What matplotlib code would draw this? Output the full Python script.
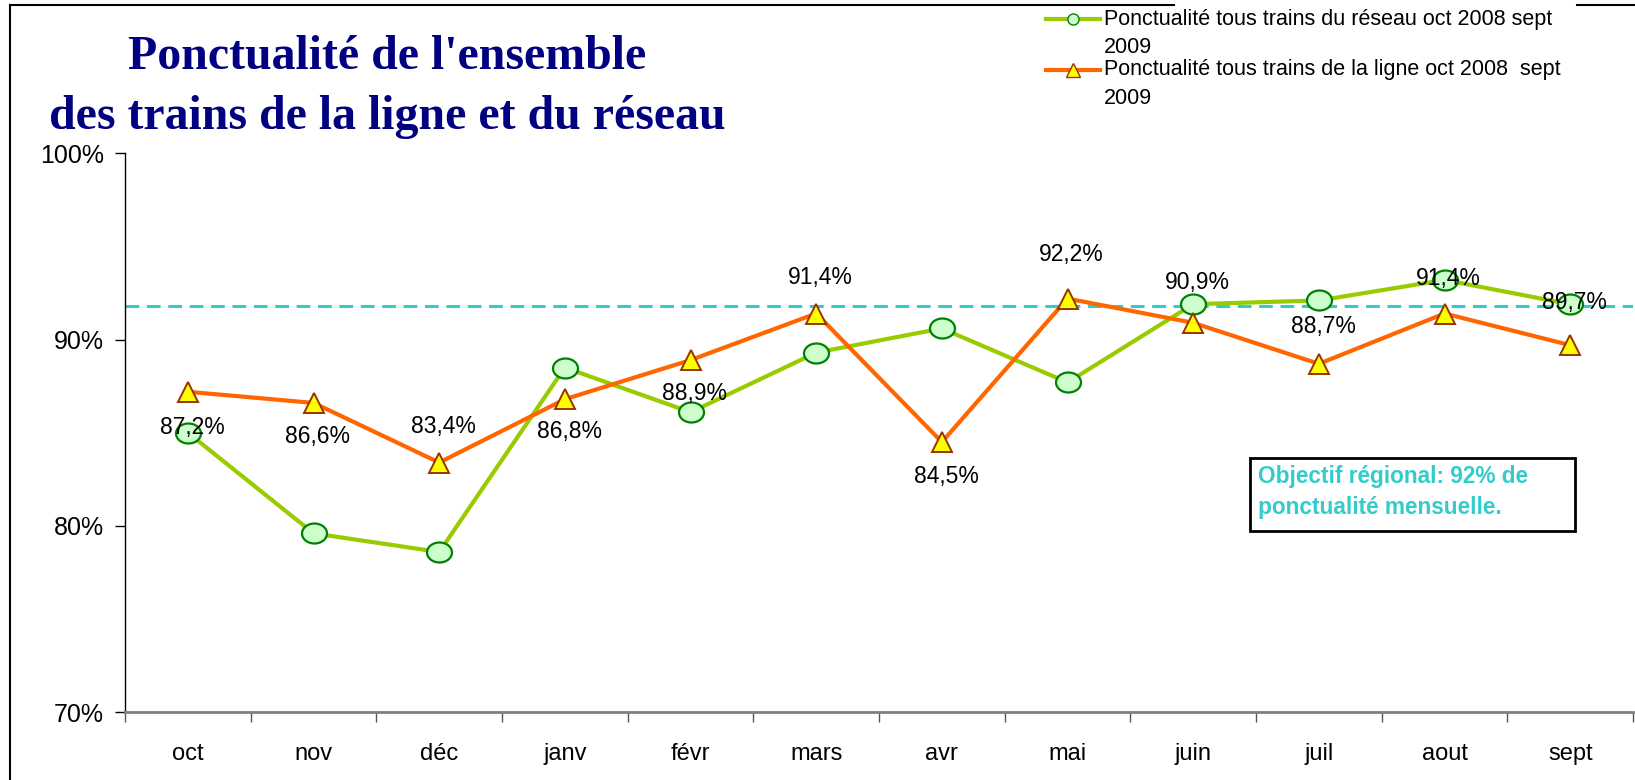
import matplotlib
matplotlib.use("Agg")
import matplotlib.pyplot as plt
from matplotlib.lines import Line2D
from matplotlib.path import Path
from matplotlib.patches import Rectangle
from matplotlib.ticker import PercentFormatter, FixedLocator
from matplotlib.legend_handler import HandlerLine2D
import numpy as np

plt.rcParams['font.family'] = ['Liberation Sans', 'DejaVu Sans']

months = ['oct', 'nov', 'déc', 'janv', 'févr', 'mars', 'avr', 'mai', 'juin', 'juil', 'aout', 'sept']
reseau = [85.0, 79.6, 78.6, 88.5, 86.1, 89.3, 90.6, 87.7, 91.9, 92.1, 93.2, 91.9]
ligne = [87.2, 86.6, 83.4, 86.8, 88.9, 91.4, 84.5, 92.2, 90.9, 88.7, 91.4, 89.7]
objectif = 91.8

label_reseau = 'Ponctualité tous trains du réseau oct 2008 sept\n2009'
label_ligne = 'Ponctualité tous trains de la ligne oct 2008  sept\n2009'

# vertical offset of each value label (points), + above the marker
label_dy = [-26, -24, 26, -23, -24, 26, -25, 32, 29, 27, 25, 31]


class TopLineHandler(HandlerLine2D):
    # put the legend sample next to the first line of a two-line label
    def __init__(self, dy, **kw):
        super().__init__(**kw)
        self.dy = dy

    def create_artists(self, *args, **kw):
        arts = super().create_artists(*args, **kw)
        for a in arts:
            a.set_ydata(np.asarray(a.get_ydata(), dtype=float) + self.dy)
        return arts


# slightly flattened circle, like the original markers
uc = Path.unit_circle()
ellipse = Path(uc.vertices * np.array([1.0, 0.8]), uc.codes)

fig = plt.figure(figsize=(16.35, 7.8), dpi=100)
ax = fig.add_axes([0.0765, 0.0869, 0.9223, 0.7166])

x = np.arange(len(months))
ax.axhline(objectif, color='#33cccc', lw=2.2, ls=(0, (4.5, 2.5)), zorder=1)
ax.plot(x, reseau, color='#99cc00', lw=3, marker=ellipse, ms=18,
        mfc='#ccffcc', mec='#008000', mew=1.6, zorder=3)
ax.plot(x, ligne, color='#ff6600', lw=3, marker='^', ms=15,
        mfc='#ffff00', mec='#993300', mew=1.4, zorder=4)

for i, v in enumerate(ligne):
    ax.annotate(f"{v:.1f}%".replace('.', ','), (x[i], v), xytext=(3, label_dy[i]),
                textcoords='offset points', ha='center', va='center',
                fontsize=16.5, color='black', zorder=6)

ax.set_xlim(-0.5, len(months) - 0.5)
ax.set_ylim(70, 100)
ax.set_yticks([70, 80, 90, 100])
ax.yaxis.set_major_formatter(PercentFormatter(decimals=0))
ax.set_xticks(x)
ax.set_xticklabels(months)
ax.xaxis.set_minor_locator(FixedLocator(np.arange(-0.5, len(months), 1)))
ax.tick_params(axis='x', which='major', length=0, pad=22, labelsize=17)
ax.tick_params(axis='x', which='minor', length=7, width=1, color='#555555', direction='out')
ax.tick_params(axis='y', length=7, width=1, direction='out', pad=8, labelsize=18)

for s in ['top', 'right']:
    ax.spines[s].set_visible(False)
ax.spines['left'].set_color('black')
ax.spines['left'].set_linewidth(1)
ax.spines['bottom'].set_color('#808080')
ax.spines['bottom'].set_linewidth(2)

# objective box
ax.text(0.751, 0.394, 'Objectif régional: 92% de\nponctualité mensuelle.',
        transform=ax.transAxes, ha='left', va='center', fontsize=16.3,
        fontweight='bold', color='#33cccc', linespacing=1.4, zorder=7)
ax.add_patch(Rectangle((0.746, 0.3246), 0.2158, 0.1306, transform=ax.transAxes,
                       fill=False, ec='black', lw=2, zorder=7))

# title
fig.text(0.2367, 0.889, "Ponctualité de l'ensemble\ndes trains de la ligne et du réseau",
         ha='center', va='center', fontsize=34.5, fontweight='bold',
         family='Liberation Serif', color='#000080', linespacing=1.47)

# outer frame (broken at the top where the legend sits)
fig.add_artist(Line2D([0.006, 0.718], [0.994, 0.994], color='black', lw=1.5, zorder=1))
fig.add_artist(Line2D([0.9645, 1.0], [0.994, 0.994], color='black', lw=1.5, zorder=1))
fig.add_artist(Line2D([0.006, 0.006], [0.0, 0.994], color='black', lw=1.5, zorder=1))

h_reseau = Line2D([], [], color='#99cc00', lw=3, marker='o', ms=8, mfc='#ccffcc', mec='#008000')
h_ligne = Line2D([], [], color='#ff6600', lw=3, marker='^', ms=10, mfc='#ffff00', mec='#993300')
leg = fig.legend([h_reseau, h_ligne], [label_reseau, label_ligne], loc='upper left',
                 bbox_to_anchor=(0.6295, 1.011), fontsize=15.5, frameon=False,
                 handlelength=2.5, handletextpad=0.15, labelspacing=0.05, borderpad=0.3,
                 handler_map={h_reseau: TopLineHandler(10.5), h_ligne: TopLineHandler(10.5)})
for t in leg.get_texts():
    t.set_linespacing(1.48)

fig.savefig('out.png', dpi=100)
